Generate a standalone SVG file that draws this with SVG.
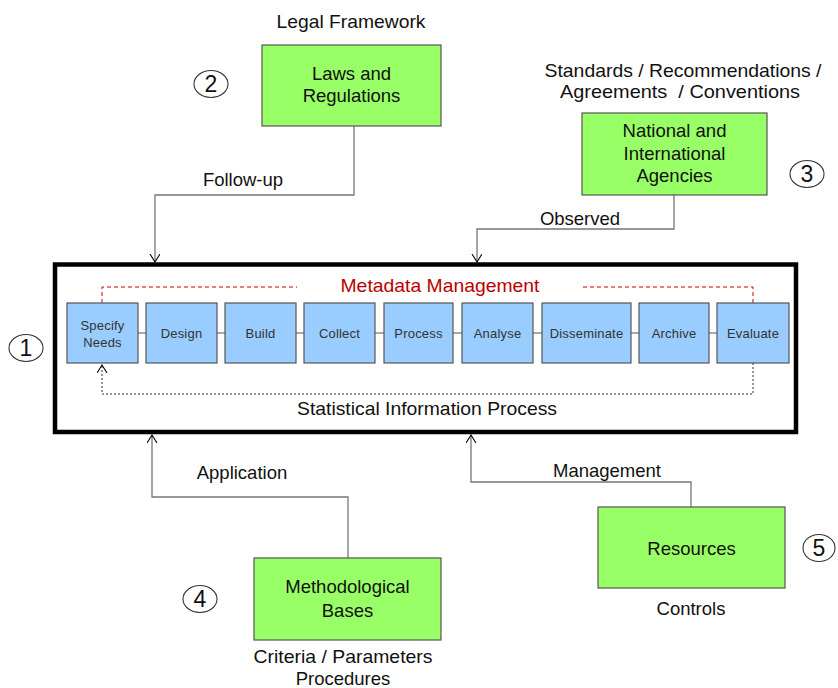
<svg xmlns="http://www.w3.org/2000/svg" width="838" height="688" viewBox="0 0 838 688">
<defs>
<style>
text{font-family:"Liberation Sans",Arial,sans-serif;fill:#111;}
.lbl{font-size:18.5px;text-anchor:middle;}
.box{font-size:18.5px;text-anchor:middle;}
.step{font-size:13px;text-anchor:middle;fill:#333;letter-spacing:0.2px;}
.green{fill:#99ff66;stroke:#555;stroke-width:1.2;}
.blue{fill:#99ccff;stroke:#555;stroke-width:1.2;}
.conn{fill:none;stroke:#777;stroke-width:1.3;}
.link{fill:none;stroke:#555;stroke-width:1.2;}
.num{fill:none;stroke:#333;stroke-width:1.1;}
.numt{font-size:23px;text-anchor:middle;}
</style>
<marker id="arr" markerUnits="userSpaceOnUse" markerWidth="12" markerHeight="12" refX="8" refY="5" orient="auto">
<path d="M0,0 L8,5 L0,10" fill="none" stroke="#000" stroke-width="1.1"/>
</marker>
</defs>
<rect width="838" height="688" fill="#fff"/>

<g id="connectors">
<path class="conn" d="M354,126 V195 H155 V262" marker-end="url(#arr)"/>
<path class="conn" d="M674,195 V229 H477 V262" marker-end="url(#arr)"/>
<path class="conn" d="M348,558 V497 H152 V435" marker-end="url(#arr)"/>
<path class="conn" d="M691,507 V482 H471 V435" marker-end="url(#arr)"/>
<path class="link" d="M138,333H146 M217,333H225 M296,333H304 M375,333H384 M453,333H462 M533,333H542 M631,333H639 M709,333H717"/>
<path d="M102,303 V287 H297 M583,287 H753 V303" fill="none" stroke="#c00" stroke-width="1" stroke-dasharray="4 3"/>
<path d="M753,363 V394 H102 V365" fill="none" stroke="#333" stroke-width="1" stroke-dasharray="2 2" marker-end="url(#arr)"/>
</g>

<g id="main-box">
<rect x="55" y="264.5" width="741" height="167.5" fill="none" stroke="#000" stroke-width="4.5"/>
<text x="440" y="292" font-size="18.5" text-anchor="middle" textLength="199" lengthAdjust="spacingAndGlyphs" style="fill:#b00">Metadata Management</text>
<text x="427" y="415" font-size="18.5" text-anchor="middle" textLength="260" lengthAdjust="spacingAndGlyphs">Statistical Information Process</text>
</g>

<g id="step-specify"><rect class="blue" x="67" y="303" width="71" height="60"/><text class="step" x="102.5" y="330">Specify</text><text class="step" x="102.5" y="347">Needs</text></g>
<g id="step-design"><rect class="blue" x="146" y="303" width="71" height="60"/><text class="step" x="181.5" y="338">Design</text></g>
<g id="step-build"><rect class="blue" x="225" y="303" width="71" height="60"/><text class="step" x="260.5" y="338">Build</text></g>
<g id="step-collect"><rect class="blue" x="304" y="303" width="71" height="60"/><text class="step" x="339.5" y="338">Collect</text></g>
<g id="step-process"><rect class="blue" x="384" y="303" width="69" height="60"/><text class="step" x="418.5" y="338">Process</text></g>
<g id="step-analyse"><rect class="blue" x="462" y="303" width="71" height="60"/><text class="step" x="497.5" y="338">Analyse</text></g>
<g id="step-disseminate"><rect class="blue" x="542" y="303" width="89" height="60"/><text class="step" x="586.5" y="338">Disseminate</text></g>
<g id="step-archive"><rect class="blue" x="639" y="303" width="70" height="60"/><text class="step" x="674" y="338">Archive</text></g>
<g id="step-evaluate"><rect class="blue" x="717" y="303" width="72" height="60"/><text class="step" x="753" y="338">Evaluate</text></g>

<g id="laws">
<text class="lbl" x="351" y="28" textLength="149" lengthAdjust="spacingAndGlyphs">Legal Framework</text>
<rect class="green" x="262" y="45" width="179" height="81"/>
<text class="box" x="351.5" y="80">Laws and</text>
<text class="box" x="351.5" y="102">Regulations</text>
</g>

<g id="agencies">
<text class="lbl" x="683" y="77" textLength="277" lengthAdjust="spacingAndGlyphs">Standards / Recommendations /</text>
<text class="lbl" x="680" y="98" xml:space="preserve" textLength="240" lengthAdjust="spacingAndGlyphs">Agreements  / Conventions</text>
<rect class="green" x="582" y="113" width="185" height="82"/>
<text class="box" x="674.5" y="137">National and</text>
<text class="box" x="674.5" y="160">International</text>
<text class="box" x="674.5" y="182">Agencies</text>
</g>

<g id="methods">
<rect class="green" x="254" y="558" width="187" height="82"/>
<text class="box" x="347.5" y="593">Methodological</text>
<text class="box" x="347.5" y="617">Bases</text>
<text class="lbl" x="343" y="663" textLength="179" lengthAdjust="spacingAndGlyphs">Criteria / Parameters</text>
<text class="lbl" x="343" y="685">Procedures</text>
</g>

<g id="resources">
<rect class="green" x="598" y="507" width="187" height="81"/>
<text class="box" x="691.5" y="555">Resources</text>
<text class="lbl" x="691" y="615">Controls</text>
</g>

<g id="connector-labels">
<text class="lbl" x="243" y="186">Follow-up</text>
<text class="lbl" x="580" y="225">Observed</text>
<text class="lbl" x="242" y="479">Application</text>
<text class="lbl" x="607" y="477">Management</text>
</g>

<g id="num1"><ellipse class="num" cx="26" cy="348" rx="17" ry="13.5"/><text class="numt" x="26" y="356">1</text></g>
<g id="num2"><ellipse class="num" cx="211" cy="84" rx="17" ry="13.5"/><text class="numt" x="211" y="92">2</text></g>
<g id="num3"><ellipse class="num" cx="807" cy="174" rx="17" ry="13.5"/><text class="numt" x="807" y="182">3</text></g>
<g id="num4"><ellipse class="num" cx="200" cy="599" rx="17" ry="13.5"/><text class="numt" x="200" y="607">4</text></g>
<g id="num5"><ellipse class="num" cx="819" cy="548" rx="16" ry="13.5"/><text class="numt" x="819" y="556">5</text></g>
</svg>
